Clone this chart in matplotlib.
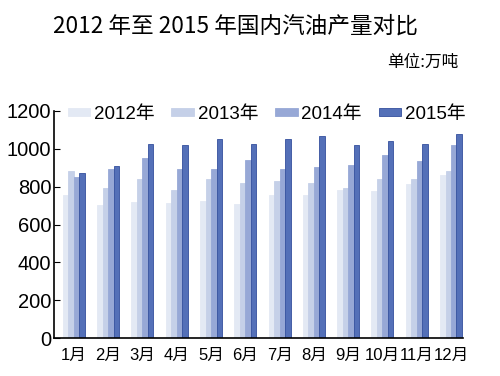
import numpy as np
import matplotlib
matplotlib.use("Agg")
import matplotlib.pyplot as plt

plt.rcParams['font.family'] = ['Liberation Sans', 'Noto Sans CJK SC', 'DejaVu Sans']

months = ["1月", "2月", "3月", "4月", "5月", "6月", "7月", "8月", "9月", "10月", "11月", "12月"]
years = ["2012年", "2013年", "2014年", "2015年"]
v2012 = [757, 701, 717, 713, 722, 711, 757, 757, 783, 778, 812, 864]
v2013 = [882, 795, 842, 783, 842, 817, 830, 817, 795, 842, 842, 882]
v2014 = [852, 894, 950, 894, 894, 941, 894, 906, 917, 969, 937, 1019]
v2015 = [870, 908, 1028, 1019, 1052, 1026, 1052, 1066, 1018, 1040, 1026, 1078]

colors = ["#e3e9f4", "#c5d0e8", "#97a8d6", "#5470b8"]
edges = ["#e3e9f4", "#c5d0e8", "#97a8d6", "#34509e"]

fig = plt.figure(figsize=(5, 3.76), dpi=100)
ax = fig.add_axes([54 / 500, 1 - 338 / 376, (463 - 54) / 500, (338 - 111) / 376])

x = np.arange(len(months))
w = 0.16
series = [v2012, v2013, v2014, v2015]
for i, vals in enumerate(series):
    ax.bar(x + (i - 1.5) * w, vals, width=w, color=colors[i], edgecolor=edges[i],
           linewidth=0.6, label=years[i])

ax.set_xlim(-0.58, 11.35)
ax.set_ylim(0, 1200)
ax.set_yticks([0, 200, 400, 600, 800, 1000, 1200])
ax.tick_params(axis='y', direction='in', length=4, labelsize=14.5, pad=2)
ax.tick_params(axis='x', length=0, pad=7)
ax.set_xticks(x)
ax.set_xticklabels(months, fontsize=12)
for s in ["top", "right"]:
    ax.spines[s].set_visible(False)
ax.spines["left"].set_linewidth(1.2)
ax.spines["bottom"].set_linewidth(1.2)

ax.legend(loc="upper left", bbox_to_anchor=(0.015, 1.055), ncol=4, frameon=False,
          fontsize=13.5, handlelength=1.2, handleheight=0.3, handletextpad=0.2,
          columnspacing=0.9, borderaxespad=0)

fig.text(0.106, 0.93, "2012 年至 2015 年国内汽油产量对比", fontsize=16.3,
         family=['Noto Sans CJK SC', 'DejaVu Sans'], va="center", ha="left")
fig.text(0.916, 0.833, "单位:万吨", fontsize=12,
         family=['Noto Sans CJK SC', 'DejaVu Sans'], va="center", ha="right")

fig.savefig("out.png", dpi=100)
